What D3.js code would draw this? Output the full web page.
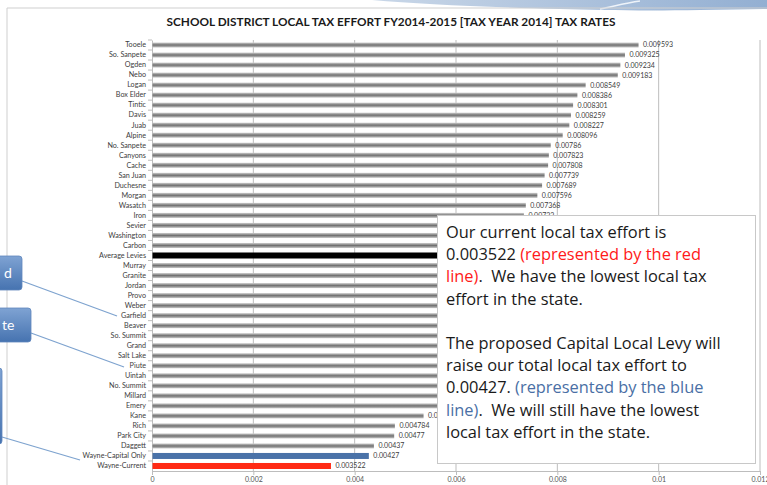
<!DOCTYPE html>
<html lang="en">
<head>
<meta charset="UTF-8">
<title>local tax effort</title>
<style>
  body { margin: 0; background: #fff; }
  svg { display: block; font-family: Lato, "Open Sans", sans-serif; }
  .note text { white-space: pre; }
</style>
</head>
<body>
<svg id="chart" width="767" height="485"></svg>
<script src="https://cdn.jsdelivr.net/npm/d3@7"></script>
<script>
// district names, top to bottom
const districts = ["Tooele", "So. Sanpete", "Ogden", "Nebo", "Logan", "Box Elder", "Tintic", "Davis",
  "Juab", "Alpine", "No. Sanpete", "Canyons", "Cache", "San Juan", "Duchesne", "Morgan", "Wasatch",
  "Iron", "Sevier", "Washington", "Carbon", "Average Levies", "Murray", "Granite", "Jordan", "Provo",
  "Weber", "Garfield", "Beaver", "So. Summit", "Grand", "Salt Lake", "Piute", "Uintah", "No. Summit",
  "Millard", "Emery", "Kane", "Rich", "Park City", "Daggett", "Wayne-Capital Only", "Wayne-Current"];
// tax rates (hidden ones behind the note are estimated)
const rates = [0.009593, 0.009325, 0.009234, 0.009183, 0.008549, 0.008386, 0.008301, 0.008259,
  0.008227, 0.008096, 0.00786, 0.007823, 0.007808, 0.007739, 0.007689, 0.007596, 0.007368,
  0.00733, 0.00721, 0.0071, 0.00704, 0.00694, 0.00686, 0.0068, 0.00672, 0.00665,
  0.00652, 0.0064, 0.00633, 0.00625, 0.00614, 0.00606, 0.00598, 0.00589, 0.00578,
  0.00572, 0.00565, 0.00535, 0.004784, 0.00477, 0.00437, 0.00427, 0.003522];
const xTicks = [0, 0.002, 0.004, 0.006, 0.008, 0.01, 0.012];
const special = { "Average Levies": "#000000", "Wayne-Capital Only": "#4a72a8", "Wayne-Current": "#ff2a14" };

const noteLines = [
  "Our current local tax effort is",
  "0.003522 {r}(represented by the red",
  "{r}line){k}.  We have the lowest local tax",
  "effort in the state.",
  "",
  "The proposed Capital Local Levy will",
  "raise our total local tax effort to",
  "0.00427. {b}(represented by the blue",
  "{b}line){k}.  We will still have the lowest",
  "local tax effort in the state."
];
const noteColors = { k: "#1a1a1a", r: "#ff1a1a", b: "#4a6fa5" };
const noteBox = { x: 437.5, y: 215.5, w: 318, h: 248 };

const svg = d3.select("#chart");
const defs = svg.append("defs");

let g1 = defs.append("linearGradient").attr("id", "grayBar").attr("x1", 0).attr("y1", 0).attr("x2", 0).attr("y2", 1);
g1.append("stop").attr("offset", "0%").attr("stop-color", "#cfcfcf");
g1.append("stop").attr("offset", "50%").attr("stop-color", "#707070");
g1.append("stop").attr("offset", "100%").attr("stop-color", "#c8c8c8");

let g2 = defs.append("linearGradient").attr("id", "calloutFill").attr("x1", 0).attr("y1", 0).attr("x2", 0).attr("y2", 1);
g2.append("stop").attr("offset", "0%").attr("stop-color", "#7fa3d3");
g2.append("stop").attr("offset", "100%").attr("stop-color", "#4673b0");

let g3 = defs.append("linearGradient").attr("id", "topBand").attr("x1", 0).attr("y1", 0).attr("x2", 1).attr("y2", 0);
g3.append("stop").attr("offset", "0%").attr("stop-color", "#c9d7e8");
g3.append("stop").attr("offset", "100%").attr("stop-color", "#93afd2");

// slide decoration
svg.append("path")
  .attr("d", "M372,0 L767,0 L767,9 L700,10 C640,11 600,10 560,9 C480,7 420,4 372,0 Z")
  .attr("fill", "url(#topBand)");
svg.append("path").attr("d", "M600,9 C615,6 625,3 640,1").attr("stroke", "#eef3f9").attr("stroke-width", 1.5).attr("fill", "none");
svg.append("path").attr("d", "M7,485 L7,8 L767,8").attr("stroke", "#cfcfcf").attr("fill", "none");

const x = d3.scaleLinear().domain([0, 0.012]).range([152, 760]);
const y = d3.scaleBand().domain(districts).range([40, 471]).paddingInner(0.5).paddingOuter(0.25);
const plotTop = 40, plotBottom = 471;

// title
svg.append("text").attr("x", 391).attr("y", 26).attr("text-anchor", "middle")
  .attr("font-size", 11.8).attr("font-weight", 700).attr("fill", "#1a1a1a")
  .text("SCHOOL DISTRICT LOCAL TAX EFFORT FY2014-2015 [TAX YEAR 2014] TAX RATES");

// gridlines
svg.append("g").selectAll("line").data(xTicks.slice(1)).join("line")
  .attr("x1", d => x(d)).attr("x2", d => x(d))
  .attr("y1", plotTop).attr("y2", plotBottom)
  .attr("stroke", "#bdbdbd");

// x axis
const xAxis = svg.append("g").attr("transform", `translate(0,${plotBottom})`)
  .call(d3.axisBottom(x).tickValues(xTicks).tickSize(4).tickPadding(2).tickFormat(d => String(+d.toFixed(3))));
xAxis.select(".domain").attr("stroke", "#bdbdbd");
xAxis.selectAll(".tick line").attr("stroke", "#bdbdbd");
xAxis.selectAll("text").attr("font-size", 7).attr("fill", "#555").attr("font-family", "Lato, sans-serif");

// y axis
const yAxis = svg.append("g").attr("transform", `translate(${x(0)},0)`)
  .call(d3.axisLeft(y).tickSize(0).tickPadding(6));
yAxis.select(".domain").attr("stroke", "#bdbdbd");
yAxis.selectAll("text").attr("font-size", 7.2).attr("fill", "#404040").attr("font-family", "Lato, sans-serif");
svg.append("g").selectAll("line").data(districts).join("line")
  .attr("x1", x(0) - 4).attr("x2", x(0))
  .attr("y1", d => y(d) - y.step() * 0.25).attr("y2", d => y(d) - y.step() * 0.25)
  .attr("stroke", "#bdbdbd");

// bars
const rows = districts.map((d, i) => ({ name: d, v: rates[i] }));
svg.append("g").selectAll("rect").data(rows).join("rect")
  .attr("x", x(0) + 0.5)
  .attr("y", d => special[d.name] ? y(d.name) - 0.5 : y(d.name))
  .attr("height", d => special[d.name] ? y.bandwidth() + 1 : y.bandwidth())
  .attr("width", d => x(d.v) - x(0))
  .attr("fill", d => special[d.name] || "url(#grayBar)");

// value labels (the ones fully under the note box can't be seen, so skip them)
const hidden = d => {
  const cy = y(d.name) + y.bandwidth() / 2;
  return x(d.v) + 5 > noteBox.x && cy > noteBox.y + 3 && cy < noteBox.y + noteBox.h;
};
svg.append("g").selectAll("text").data(rows.filter(d => !hidden(d))).join("text")
  .attr("x", d => x(d.v) + 5)
  .attr("y", d => y(d.name) + y.bandwidth() / 2)
  .attr("dy", "0.35em")
  .attr("font-size", 7).attr("fill", "#404040")
  .text(d => String(d.v));

// note box
const note = svg.append("g").attr("class", "note");
note.append("rect").attr("x", noteBox.x).attr("y", noteBox.y).attr("width", noteBox.w).attr("height", noteBox.h)
  .attr("fill", "#fff").attr("stroke", "#c8c8c8");
noteLines.forEach((line, i) => {
  if (!line) return;
  const t = note.append("text").attr("x", 446).attr("y", 238 + i * 22.2)
    .attr("font-size", 16.4).attr("font-family", "'Open Sans', sans-serif");
  let color = noteColors.k;
  line.split(/(\{[krb]\})/).forEach(p => {
    const m = p.match(/^\{([krb])\}$/);
    if (m) { color = noteColors[m[1]]; return; }
    if (p) t.append("tspan").attr("fill", color).text(p);
  });
});

// callouts at the left edge (cut off by the slide)
const callouts = [
  { x: -60, y: 256, w: 82, h: 34, label: "d", tx: 4, ty: 278, from: [22, 281], to: [117, 316] },
  { x: -60, y: 308, w: 91, h: 34, label: "te", tx: 2, ty: 330, from: [31, 333], to: [124, 367] },
  { x: -60, y: 368, w: 62, h: 76, label: "", tx: 0, ty: 0, from: [2, 437], to: [80, 460] }
];
callouts.forEach(c => {
  svg.append("line").attr("x1", c.from[0]).attr("y1", c.from[1]).attr("x2", c.to[0]).attr("y2", c.to[1])
    .attr("stroke", "#7ea3cf").attr("stroke-width", 1.3);
  svg.append("rect").attr("x", c.x).attr("y", c.y).attr("width", c.w).attr("height", c.h).attr("rx", 3)
    .attr("fill", "url(#calloutFill)").attr("stroke", "#5f86bd").attr("stroke-width", 0.8);
  if (c.label) svg.append("text").attr("x", c.tx).attr("y", c.ty).attr("font-size", 14)
    .attr("fill", "#fff").text(c.label);
});
</script>
</body>
</html>
